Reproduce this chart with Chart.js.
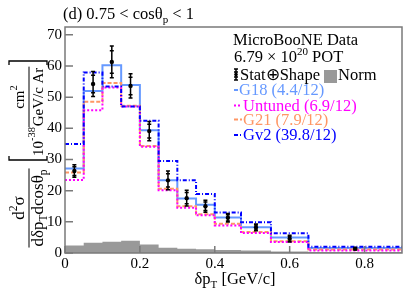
<!DOCTYPE html>
<html><head><meta charset="utf-8">
<script src="https://cdn.jsdelivr.net/npm/chart.js@4"></script>
<style>html,body{margin:0;padding:0;background:#fff;overflow:hidden}canvas{display:block}</style>
</head><body><canvas id="c" width="407" height="295"></canvas>
<script>
// ---- data ----
const binEdges   = [0, 0.05, 0.1, 0.15, 0.2, 0.25, 0.3, 0.35, 0.4, 0.47, 0.55, 0.65, 0.9];
const binCenters = [0.025, 0.075, 0.125, 0.175, 0.225, 0.275, 0.325, 0.375, 0.435, 0.51, 0.6, 0.775];
const dataValues   = [26.3, 54.2, 61.3, 53.6, 39.1, 23.3, 17.6, 15.0, 11.3, 8.2, 4.6, 1.4];
const dataErrTotal = [2.0, 4.0, 5.1, 3.9, 3.1, 3.0, 2.5, 1.9, 1.35, 1.1, 1.1, 0.4];
const dataErrStat  = [1.4, 2.8, 3.6, 2.8, 2.2, 2.1, 1.8, 1.4, 1.0, 0.8, 0.8, 0.3];
const g18Values     = [27.1, 52.0, 60.2, 53.9, 39.4, 23.3, 17.5, 15.5, 11.4, 8.3, 5.0, 1.6];
const untunedValues = [23.4, 45.8, 53.1, 47.0, 34.1, 20.1, 14.5, 12.1, 8.8, 6.4, 3.5, 0.8];
const g21Values     = [25.8, 48.5, 54.5, 47.2, 34.3, 20.6, 15.0, 12.4, 9.4, 6.7, 3.8, 1.1];
const gv2Values     = [35.0, 57.9, 53.4, 47.0, 42.4, 29.5, 23.3, 18.9, 13.0, 9.9, 6.3, 2.0];
const normValues    = [2.4, 3.3, 3.6, 3.9, 2.7, 1.7, 1.4, 1.2, 1.0, 0.8, 0.5, 0.3];
const xTickValues = [0, 0.2, 0.4, 0.6, 0.8];
const xTickLabels = ['0', '0.2', '0.4', '0.6', '0.8'];
const yTickValues = [0, 10, 20, 30, 40, 50, 60, 70];
const yTickLabels = ['0', '10', '20', '30', '40', '50', '60', '70'];
const legendLabels = ['G18 (4.4/12)', 'Untuned (6.9/12)', 'G21 (7.9/12)', 'Gv2 (39.8/12)'];

// ---- styles ----
const SERIF = '"Liberation Serif","Times New Roman",serif';
const C_G18 = 'rgb(102,153,255)', C_UN = '#ff00ff', C_G21 = 'rgb(255,150,100)', C_GV2 = '#0000ff', C_NORM = '#999999';
const FRAME = '#7a7a7a';

function stepPoints(vals) {
  const pts = [];
  vals.forEach((v, i) => { pts.push({x: binEdges[i], y: v}); pts.push({x: binEdges[i + 1], y: v}); });
  return pts;
}

function richWidth(ctx, parts) {
  let w = 0;
  parts.forEach(p => { ctx.font = p[1] + 'px ' + SERIF; w += ctx.measureText(p[0]).width; });
  return w;
}
function rich(ctx, parts, x, y, align) {
  const w = richWidth(ctx, parts);
  if (align === 'center') x -= w / 2;
  parts.forEach(p => {
    ctx.font = p[1] + 'px ' + SERIF;
    ctx.fillText(p[0], x, y + (p[2] || 0));
    x += ctx.measureText(p[0]).width;
  });
  return w;
}

const decorPlugin = {
  id: 'decor',
  afterDatasetsDraw(chart) {
    const ctx = chart.ctx, xs = chart.scales.x, ys = chart.scales.y;
    ctx.save();
    ctx.strokeStyle = '#000'; ctx.lineWidth = 1.5;
    binCenters.forEach((c, i) => {
      const px = xs.getPixelForValue(c);
      const t = ys.getPixelForValue(dataValues[i] + dataErrTotal[i]);
      const b = ys.getPixelForValue(dataValues[i] - dataErrTotal[i]);
      const st = ys.getPixelForValue(dataValues[i] + dataErrStat[i]);
      const sb = ys.getPixelForValue(dataValues[i] - dataErrStat[i]);
      ctx.beginPath();
      ctx.moveTo(px, t); ctx.lineTo(px, b);
      [t, b, st, sb].forEach(yy => { ctx.moveTo(px - 2, yy); ctx.lineTo(px + 2, yy); });
      ctx.stroke();
    });
    ctx.restore();
  },
  afterDraw(chart) {
    const ctx = chart.ctx, a = chart.chartArea, xs = chart.scales.x, ys = chart.scales.y;
    ctx.save();
    // frame & ticks
    ctx.strokeStyle = FRAME; ctx.lineWidth = 1.5;
    ctx.strokeRect(a.left, a.top, a.right - a.left, a.bottom - a.top);
    ctx.beginPath();
    yTickValues.forEach(v => { const py = ys.getPixelForValue(v); ctx.moveTo(a.left, py); ctx.lineTo(a.left + 8, py); });
    xTickValues.forEach(v => { const px = xs.getPixelForValue(v); ctx.moveTo(px, a.bottom); ctx.lineTo(px, a.bottom - 7); });
    ctx.stroke();

    ctx.fillStyle = '#000'; ctx.textBaseline = 'alphabetic'; ctx.textAlign = 'left';
    // title
    rich(ctx, [['(d) 0.75 < cos\u03B8', 16.5], ['p', 11, 4], [' < 1', 16.5]], 63, 19);
    // x title
    rich(ctx, [['\u03B4p', 16.5], ['T', 11, 4], [' [GeV/c]', 16.5]], 235, 284, 'center');

    // legend
    rich(ctx, [['MicroBooNE Data', 16.5]], 233, 45);
    rich(ctx, [['6.79 \u00D7 10', 16.5], ['20', 11, -7], [' POT', 16.5]], 234, 62);
    // error bar symbol
    ctx.strokeStyle = '#000'; ctx.lineWidth = 1.5;
    ctx.beginPath();
    ctx.moveTo(236, 69); ctx.lineTo(236, 80);
    [69, 80, 72, 77].forEach(yy => { ctx.moveTo(234, yy); ctx.lineTo(238, yy); });
    ctx.stroke();
    ctx.beginPath(); ctx.arc(236, 74.5, 1.8, 0, Math.PI * 2); ctx.fill();
    rich(ctx, [['Stat\u2295Shape', 16.5]], 240, 80);
    ctx.fillStyle = C_NORM; ctx.fillRect(324, 70, 13, 13);
    ctx.fillStyle = '#000';
    rich(ctx, [['Norm', 16.5]], 338, 80);

    const leg = [
      [C_G18, [], 95, 234, 238, 239],
      [C_UN, [2, 2], 110.5, 234, 242, 243],
      [C_G21, [4, 2], 124.5, 234, 242, 243],
      [C_GV2, [4, 2, 1, 2], 140, 234, 242, 243]
    ];
    leg.forEach((l, i) => {
      ctx.strokeStyle = l[0]; ctx.lineWidth = 2; ctx.setLineDash(l[1]);
      ctx.beginPath(); ctx.moveTo(l[3], l[2] - 5); ctx.lineTo(l[4], l[2] - 5); ctx.stroke();
      ctx.setLineDash([]);
      ctx.fillStyle = l[0];
      rich(ctx, [[legendLabels[i], 16.5]], l[5], l[2]);
    });

    // y title (rotated)
    ctx.fillStyle = '#000'; ctx.strokeStyle = '#000';
    ctx.translate(0, 295); ctx.rotate(-Math.PI / 2);
    const num1 = [['d', 17], ['2', 11.5, -7], ['\u03C3', 17]];
    const den1 = [['d\u03B4p', 17], ['T', 11.5, 4], ['dcos\u03B8', 17], ['p', 11.5, 4]];
    const u0 = 87;
    const wd = richWidth(ctx, den1);
    rich(ctx, num1, u0, 24, 'center');
    rich(ctx, den1, u0, 43, 'center');
    ctx.lineWidth = 1;
    ctx.beginPath(); ctx.moveTo(u0 - wd / 2 - 1, 29); ctx.lineTo(u0 + wd / 2 + 1, 29); ctx.stroke();

    // bracket section
    ctx.lineWidth = 1.3;
    ctx.beginPath();
    ctx.moveTo(139, 9); ctx.lineTo(135, 9); ctx.lineTo(135, 47); ctx.lineTo(139, 47);
    ctx.moveTo(230, 9); ctx.lineTo(234, 9); ctx.lineTo(234, 47); ctx.lineTo(230, 47);
    ctx.stroke();
    rich(ctx, [['10', 15], ['-38', 10.5, -8]], 139, 43);
    const den2 = [['GeV/c Ar', 15]];
    const wd2 = richWidth(ctx, den2);
    const u2 = 198;
    rich(ctx, [['cm', 15], ['2', 10.5, -7]], u2, 24, 'center');
    rich(ctx, den2, u2, 43, 'center');
    ctx.lineWidth = 1;
    ctx.beginPath(); ctx.moveTo(u2 - wd2 / 2 - 1, 29); ctx.lineTo(u2 + wd2 / 2 + 1, 29); ctx.stroke();
    ctx.restore();
  }
};

const lineDS = (label, vals, color, dash, order) => ({
  type: 'line', label, data: stepPoints(vals), borderColor: color, borderWidth: 2,
  borderDash: dash, pointRadius: 0, fill: false, tension: 0, order
});

new Chart(document.getElementById('c'), {
  type: 'scatter',
  data: {
    datasets: [
      {type: 'scatter', label: 'Data', data: binCenters.map((c, i) => ({x: c, y: dataValues[i]})),
       backgroundColor: '#000', borderColor: '#000', pointRadius: 2.2, pointBorderWidth: 0, order: 0},
      lineDS('Gv2', gv2Values, C_GV2, [4, 2, 1, 2], 1),
      lineDS('Untuned', untunedValues, C_UN, [2, 2], 2),
      lineDS('G21', g21Values, C_G21, [4, 2], 3),
      lineDS('G18', g18Values, C_G18, [], 4),
      {type: 'line', label: 'Norm', data: stepPoints(normValues), borderWidth: 0, borderColor: 'rgba(0,0,0,0)',
       backgroundColor: C_NORM, fill: 'origin', pointRadius: 0, tension: 0, order: 5}
    ]
  },
  options: {
    responsive: false, animation: false, devicePixelRatio: 1,
    layout: {padding: {left: 0, right: 5, top: 27, bottom: 0}},
    plugins: {legend: {display: false}, tooltip: {enabled: false}},
    scales: {
      x: {
        type: 'linear', min: 0, max: 0.9,
        grid: {display: false, drawTicks: false}, border: {display: false},
        afterBuildTicks: s => { s.ticks = xTickValues.map(v => ({value: v})); },
        afterFit: s => { s.height = 42; },
        ticks: {font: {family: SERIF, size: 15}, color: '#000', padding: 2, maxRotation: 0, autoSkip: false,
                callback: (v) => xTickLabels[xTickValues.indexOf(v)] ?? ''}
      },
      y: {
        type: 'linear', min: 0, max: 72.5,
        grid: {display: false, drawTicks: false}, border: {display: false},
        afterBuildTicks: s => { s.ticks = yTickValues.map(v => ({value: v})); },
        afterFit: s => { s.width = 65; },
        ticks: {font: {family: SERIF, size: 15}, color: '#000', padding: 3, autoSkip: false,
                callback: (v) => yTickLabels[yTickValues.indexOf(v)] ?? ''}
      }
    }
  },
  plugins: [decorPlugin]
});
</script>
</body></html>
